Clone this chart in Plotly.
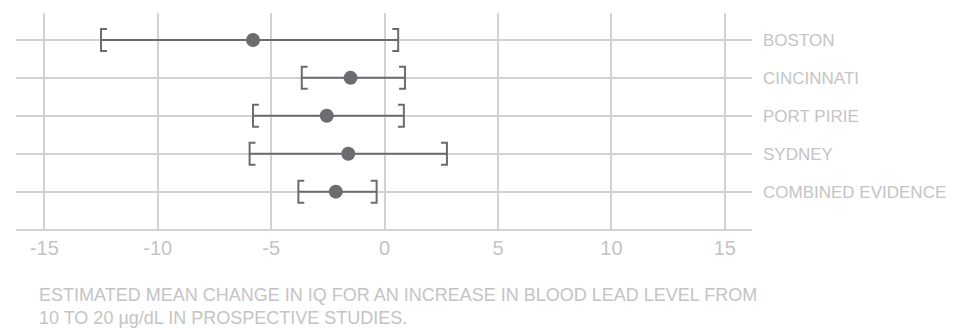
import plotly.graph_objects as go

studies = ["BOSTON", "CINCINNATI", "PORT PIRIE", "SYDNEY", "COMBINED EVIDENCE"]
estimate = [-5.8, -1.5, -2.55, -1.6, -2.15]
lower = [-12.5, -3.65, -5.8, -5.95, -3.8]
upper = [0.6, 0.9, 0.85, 2.75, -0.35]
x_ticks = [-15, -10, -5, 0, 5, 10, 15]
x_tick_labels = ["-15", "-10", "-5", "0", "5", "10", "15"]
caption = ("ESTIMATED MEAN CHANGE IN IQ FOR AN INCREASE IN BLOOD LEAD LEVEL FROM<br>"
           "10 TO 20 \u00b5g/dL IN PROSPECTIVE STUDIES.")

n = len(studies)
ypos = [n - 1 - i for i in range(n)]

MARK = "#6b6b70"
GRID = "#d2d2d2"
TEXT = "#c4c4c4"
FONT = "Liberation Sans, Arial, sans-serif"

h = 0.29   # half bracket height (y units)
s = 0.26   # serif length (x units)

lx, ly = [], []
for y, lo, hi in zip(ypos, lower, upper):
    lx += [lo, hi, None]
    ly += [y, y, None]
    lx += [lo + s, lo, lo, lo + s, None]
    ly += [y + h, y + h, y - h, y - h, None]
    lx += [hi - s, hi, hi, hi - s, None]
    ly += [y + h, y + h, y - h, y - h, None]

fig = go.Figure()
fig.add_trace(go.Scatter(x=lx, y=ly, mode="lines",
                         line=dict(color=MARK, width=2), hoverinfo="skip",
                         showlegend=False))
fig.add_trace(go.Scatter(x=estimate, y=ypos, mode="markers",
                         marker=dict(color=MARK, size=14, line=dict(width=0)),
                         showlegend=False))

# page body has an 8px default margin; figure is sized to fit the window
fig.update_layout(
    width=946, height=320,
    margin=dict(l=8, r=202, t=5, b=99, autoexpand=False),
    paper_bgcolor="white", plot_bgcolor="white",
    font=dict(family=FONT, color=TEXT, size=18),
    xaxis=dict(range=[-16.25, 16.2], tickvals=x_ticks, ticktext=x_tick_labels,
               showgrid=True, gridcolor=GRID, gridwidth=1.5, automargin=False,
               zeroline=False, showline=True, linecolor=GRID, linewidth=1.5,
               ticks="", ticklabelstandoff=0,
               tickfont=dict(size=20, color=TEXT), fixedrange=True),
    yaxis=dict(range=[-0.985, 4.71], tickvals=ypos, ticktext=studies,
               side="right", showgrid=True, gridcolor=GRID, gridwidth=1.5,
               zeroline=False, showline=False, ticks="", automargin=False,
               ticklabelstandoff=10,
               tickfont=dict(size=17, color=TEXT), fixedrange=True),
    annotations=[dict(text=caption, xref="paper", yref="paper",
                      x=(37 - 16) / 736, y=-0.248, xanchor="left", yanchor="top",
                      align="left", showarrow=False,
                      font=dict(size=18, color=TEXT, family=FONT))],
)

fig.write_html("out.html")
